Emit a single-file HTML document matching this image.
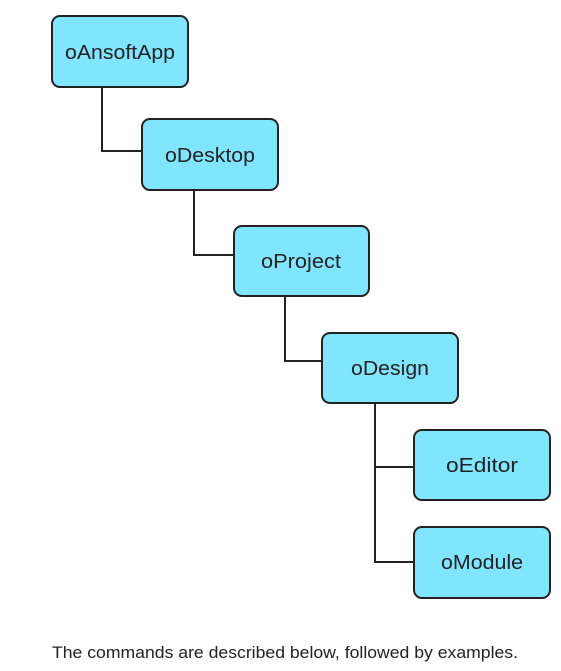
<!DOCTYPE html>
<html><head><style>
body{margin:0;background:#fff;width:561px;height:666px;overflow:hidden;}
</style></head><body>
<svg width="561" height="666" xmlns="http://www.w3.org/2000/svg">
<g fill="none" stroke="#222" stroke-width="2">
<polyline points="102,87 102,151 142,151"/>
<polyline points="194,190 194,255 234,255"/>
<polyline points="285,296 285,361 322,361"/>
<polyline points="375,403 375,562 414,562"/>
<line x1="375" y1="467" x2="414" y2="467"/>
</g>
<g fill="#80e5ff" stroke="#222" stroke-width="2">
<rect x="52" y="16" width="136" height="71" rx="8"/>
<rect x="142" y="119" width="136" height="71" rx="8"/>
<rect x="234" y="226" width="135" height="70" rx="8"/>
<rect x="322" y="333" width="136" height="70" rx="8"/>
<rect x="414" y="430" width="136" height="70" rx="8"/>
<rect x="414" y="527" width="136" height="71" rx="8"/>
</g>
<g font-family="Liberation Sans, sans-serif" font-size="20" fill="#222" text-anchor="middle">
<text x="120" y="59" textLength="110" lengthAdjust="spacingAndGlyphs">oAnsoftApp</text>
<text x="210" y="162" textLength="90" lengthAdjust="spacingAndGlyphs">oDesktop</text>
<text x="301" y="268" textLength="80" lengthAdjust="spacingAndGlyphs">oProject</text>
<text x="390" y="375" textLength="78" lengthAdjust="spacingAndGlyphs">oDesign</text>
<text x="482" y="472" textLength="72" lengthAdjust="spacingAndGlyphs">oEditor</text>
<text x="482" y="569" textLength="82" lengthAdjust="spacingAndGlyphs">oModule</text>
</g>
<text x="52" y="658" font-family="Liberation Sans, sans-serif" font-size="17" fill="#222" textLength="466" lengthAdjust="spacingAndGlyphs">The commands are described below, followed by examples.</text>
</svg>
</body></html>
